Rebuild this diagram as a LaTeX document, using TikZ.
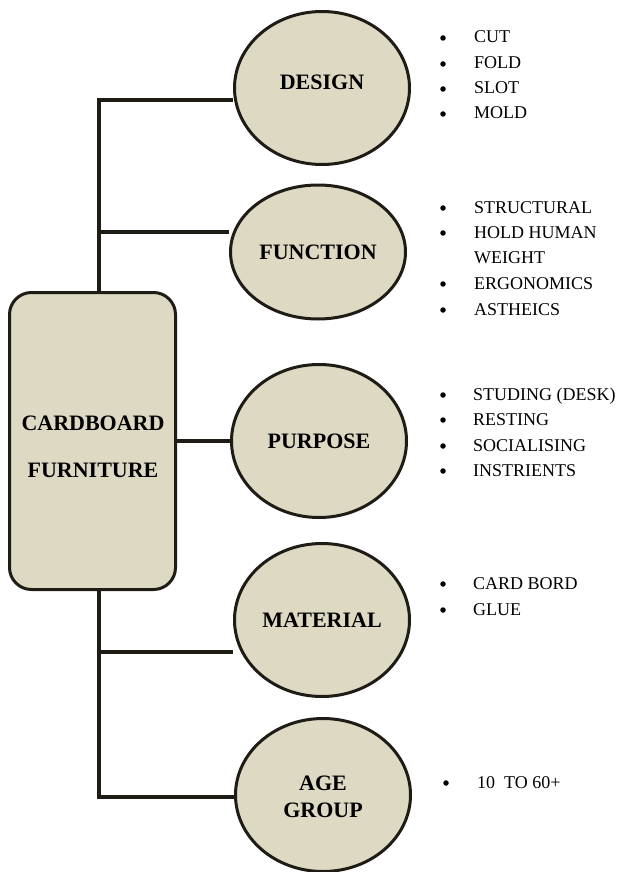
\documentclass[tikz,border=0pt]{standalone}
\usepackage{fontspec}
\setmainfont{Liberation Serif}
\usetikzlibrary{shapes.geometric,backgrounds}
\definecolor{card}{HTML}{DDD9C3}
\definecolor{edge}{HTML}{1E1C14}
\begin{document}
\begin{tikzpicture}[x=1pt, y=-1pt,
        topic/.style={ellipse, draw=edge, line width=3pt, fill=card,
            minimum width=175pt, minimum height=153pt, inner sep=0pt,
            font=\fontsize{22}{27}\selectfont\bfseries, align=center},
        mainbox/.style={rounded corners=22pt, draw=edge, line width=3pt, fill=card,
            minimum width=166pt, minimum height=297pt},
        boxtext/.style={font=\fontsize{22}{47}\selectfont\bfseries, align=center},
        conn/.style={draw=edge, line width=3.5pt},
        dot/.style={circle, fill=black, inner sep=0pt, minimum size=5.5pt},
        item/.style={anchor=base west, inner sep=0pt, font=\fontsize{18}{20}\selectfont}]
            \useasboundingbox (0, 0) rectangle (622, 872);
            %\draw[lightgray] (0, 0) grid[step=50] (622, 872);
            \node[mainbox] (furniture) at (92.5, 441) {};
            \node[boxtext] (furnituretext) at (93, 447) {CARDBOARD\\FURNITURE};
            \node[topic, text depth=12pt] (design) at (322, 88) {DESIGN};
            \node[topic, minimum height=134pt] (function) at (318, 252) {FUNCTION};
            \node[topic] (purpose) at (319, 441) {PURPOSE};
            \node[topic] (material) at (322, 620) {MATERIAL};
            \node[topic] (age) at (323, 795) {\\[-8pt]AGE\\GROUP};
            \coordinate (t1) at (99, 100);
            \coordinate (t2) at (99, 232);
            \coordinate (t3) at (99, 652);
            \coordinate (t4) at (99, 797);
            \begin{scope}[on background layer]
                \draw[conn] (furniture.north -| t1) -- (t1) -- (t1 -| design.west);
                \draw[conn] (t2) -- (t2 -| function.west);
                \draw[conn] (furniture.east) -- (purpose.west);
                \draw[conn] (furniture.south -| t4) -- (t4) -- (t4 -| age.west);
                \draw[conn] (t3) -- (t3 -| material.west);
            \end{scope}
            % lists
            \foreach \y/\txt [count=\i] in {37/CUT, 63/FOLD, 88/SLOT, 113/MOLD} {
                \node[dot] (db\i) at (443, \y+1) {};
                \node[item] (d\i) at (474, \y+6) {\txt};
            }
            \foreach \y/\txt [count=\i] in {207/STRUCTURAL, 232/HOLD HUMAN, 283/ERGONOMICS, 309/ASTHEICS} {
                \node[dot] (fb\i) at (443, \y+1) {};
                \node[item] (f\i) at (474, \y+6) {\txt};
            }
            \node[item] (f2w) at (474, 263) {WEIGHT};
            \foreach \y/\txt [count=\i] in {394/STUDING (DESK), 419/RESTING, 445/SOCIALISING, 470/INSTRIENTS} {
                \node[dot] (pb\i) at (443, \y+1) {};
                \node[item] (p\i) at (473, \y+6) {\txt};
            }
            \foreach \y/\txt [count=\i] in {583/CARD BORD, 609/GLUE} {
                \node[dot] (mb\i) at (443, \y+1) {};
                \node[item] (m\i) at (473, \y+6) {\txt};
            }
            \node[dot] (ab1) at (446, 783) {};
            \node[item] (a1) at (477, 788) {10~ TO 60+};
        \end{tikzpicture}
\end{document}
